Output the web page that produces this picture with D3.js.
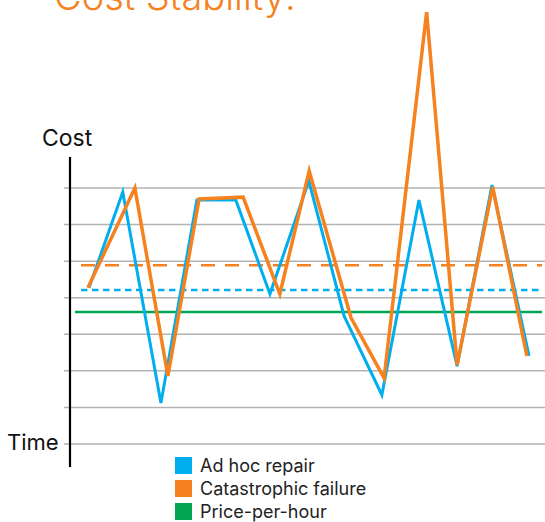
<!DOCTYPE html>
<html>
<head>
<meta charset="utf-8">
<script src="https://cdn.jsdelivr.net/npm/d3@7"></script>
<style>
  html, body { margin: 0; padding: 0; background: #fff; }
  svg { display: block; font-family: Inter, "Noto Sans", sans-serif; }
</style>
</head>
<body>
<svg id="chart" width="545" height="522"></svg>
<script>
// values (x in time steps, y in grid units)
var adhocX = [0, 0.92, 1.96, 2.94, 4.0, 4.93, 5.99, 6.95, 7.98, 8.99, 10.03, 10.98, 11.99],
    adhocY = [4.27, 6.89, 1.12, 6.67, 6.67, 4.10, 7.19, 3.50, 1.34, 6.67, 2.13, 7.08, 2.41];
var catX = [-0.03, 1.25, 2.15, 3.0, 4.2, 5.2, 6.0, 7.14, 8.04, 9.2, 10.03, 11.0, 11.93],
    catY = [4.27, 7.0, 1.86, 6.70, 6.75, 4.10, 7.47, 3.45, 1.80, 11.81, 2.16, 7.03, 2.41];
var averages = [4.89, 4.21, 3.61]; // catastrophic, ad hoc, price-per-hour
var gridValues = [0, 1, 2, 3, 4, 5, 6, 7];
var legendLabels = ["Ad hoc repair", "Catastrophic failure", "Price-per-hour"];

var blue = "#00aeef", orange = "#f5821f", green = "#00a651";
var colors = [blue, orange, green];

var svg = d3.select("#chart");

var x = d3.scaleLinear().domain([0, 12]).range([89, 529.4]),
    y = d3.scaleLinear().domain([0, 7]).range([444, 188]);

// title, cut off at the top like the original
svg.append("text")
    .attr("x", 54)
    .attr("y", 10)
    .attr("fill", orange)
    .attr("font-size", 38)
    .attr("font-weight", 300)
    .text("Cost Stability:");

// grid
svg.selectAll(".grid")
    .data(gridValues)
    .enter()
    .append("line")
    .attr("x1", 64)
    .attr("x2", 545)
    .attr("y1", function(d) { return y(d); })
    .attr("y2", function(d) { return y(d); })
    .attr("stroke", "#b3b3b3")
    .attr("stroke-width", 1.5);

// vertical axis
svg.append("line")
    .attr("x1", 70).attr("x2", 70)
    .attr("y1", 157).attr("y2", 467)
    .attr("stroke", "#000")
    .attr("stroke-width", 2.2);

svg.append("text")
    .attr("x", 42).attr("y", 146)
    .attr("font-size", 23)
    .attr("fill", "#111")
    .text("Cost");

svg.append("text")
    .attr("x", 7).attr("y", 450)
    .attr("font-size", 22)
    .attr("fill", "#111")
    .text("Time");

// average lines
svg.append("line")
    .attr("x1", 81).attr("x2", 542)
    .attr("y1", y(averages[0])).attr("y2", y(averages[0]))
    .attr("stroke", orange).attr("stroke-width", 2.5)
    .attr("stroke-dasharray", "14,10");

svg.append("line")
    .attr("x1", 81).attr("x2", 542)
    .attr("y1", y(averages[1])).attr("y2", y(averages[1]))
    .attr("stroke", blue).attr("stroke-width", 2.5)
    .attr("stroke-dasharray", "6.5,4.5");

svg.append("line")
    .attr("x1", 75).attr("x2", 542)
    .attr("y1", y(averages[2])).attr("y2", y(averages[2]))
    .attr("stroke", green).attr("stroke-width", 2.5);

var line = d3.line()
    .x(function(d) { return x(d[0]); })
    .y(function(d) { return y(d[1]); });

svg.append("path")
    .datum(d3.zip(adhocX, adhocY))
    .attr("d", line)
    .attr("fill", "none")
    .attr("stroke", blue)
    .attr("stroke-width", 3);

svg.append("path")
    .datum(d3.zip(catX, catY))
    .attr("d", line)
    .attr("fill", "none")
    .attr("stroke", orange)
    .attr("stroke-width", 3.5);

// legend
var legend = svg.selectAll(".legend")
    .data(legendLabels)
    .enter()
    .append("g")
    .attr("transform", function(d, i) { return "translate(175," + (457 + i * 23) + ")"; });

legend.append("rect")
    .attr("width", 17)
    .attr("height", 17)
    .attr("fill", function(d, i) { return colors[i]; });

legend.append("text")
    .attr("x", 25)
    .attr("y", 15)
    .attr("font-size", 18)
    .attr("fill", "#222")
    .text(function(d) { return d; });
</script>
</body>
</html>
